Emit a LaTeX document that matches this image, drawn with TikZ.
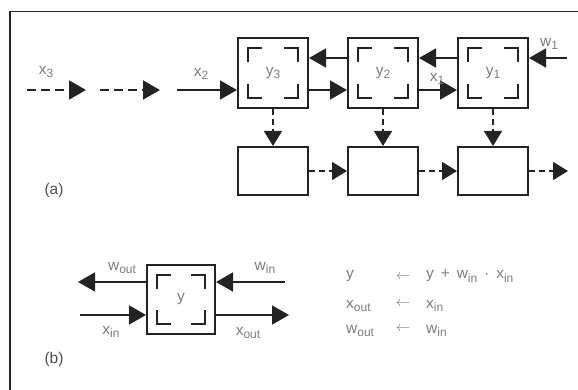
\documentclass[tikz,border=0pt]{standalone}
\usepackage{fontspec}
\setmainfont{Liberation Sans}
\usetikzlibrary{arrows.meta}
\definecolor{txt}{RGB}{125,125,125}
\definecolor{ink}{RGB}{35,35,35}
\newcommand\sbs[1]{\raisebox{-0.45ex}{\fontsize{12}{13}\selectfont #1}}
\tikzset{
  brk/.style={draw=ink, line width=2.3pt},
  brackets/.style={path picture={
    \draw[brk] ([shift={(#1pt,-#1pt-14pt)}]path picture bounding box.north west) -- ++(0pt,14pt) -- ++(14pt,0pt);
    \draw[brk] ([shift={(-#1pt-14pt,-#1pt)}]path picture bounding box.north east) -- ++(14pt,0pt) -- ++(0pt,-14pt);
    \draw[brk] ([shift={(#1pt,#1pt+14pt)}]path picture bounding box.south west) -- ++(0pt,-14pt) -- ++(14pt,0pt);
    \draw[brk] ([shift={(-#1pt-14pt,#1pt)}]path picture bounding box.south east) -- ++(14pt,0pt) -- ++(0pt,14pt);
  }},
  cell/.style={draw=ink, line width=2pt, minimum width=70pt, minimum height=70pt,
    inner sep=0pt, text=txt, font=\fontsize{15.5}{17}\selectfont, brackets=10},
  store/.style={draw=ink, line width=2pt, minimum width=70pt, minimum height=48pt, inner sep=0pt},
  lab/.style={text=txt, font=\fontsize{15.5}{17}\selectfont, inner sep=0pt},
  arr/.style={draw=ink, line width=1.5pt, -{Triangle[length=17pt,width=19pt]}},
  darr/.style={arr, dash pattern=on 9pt off 5pt},
  vdarr/.style={draw=ink, line width=1.5pt, dash pattern=on 6pt off 4pt, -{Triangle[length=15pt,width=18pt]}},
}
\begin{document}
\begin{tikzpicture}[x=1pt,y=-1pt]
\useasboundingbox (0,0) rectangle (578,390);
\fill[white] (0,0) rectangle (578,390);
% frame
\draw[ink, line width=1.5pt] (10,390) -- (10,11.5) -- (578,11.5);

% (a) cells
\node[cell] (c3) at (273,73) {y\sbs{3}};
\node[cell] (c2) at (383,73) {y\sbs{2}};
\node[cell] (c1) at (493,73) {y\sbs{1}};
\node[store] (s3) at (273,171) {};
\node[store] (s2) at (383,171) {};
\node[store] (s1) at (493,171) {};

% w flow (right to left)
\coordinate (win1) at (567,58);
\draw[arr] (win1) -- (c1.east |- win1);
\draw[arr] (c1.west |- win1) -- (c2.east |- win1);
\draw[arr] (c2.west |- win1) -- (c3.east |- win1);
% x flow (left to right)
\coordinate (xa) at (27,90);
\coordinate (xb) at (86,90);
\coordinate (xc) at (100,90);
\coordinate (xd) at (160,90);
\coordinate (xe) at (177,90);
\draw[darr] (xa) -- (xb);
\draw[darr] (xc) -- (xd);
\draw[arr] (xe) -- (c3.west |- xe);
\draw[arr] (c3.east |- xe) -- (c2.west |- xe);
\draw[arr] (c2.east |- xe) -- (c1.west |- xe);
% down to stores
\draw[vdarr] (c3) -- (s3);
\draw[vdarr] (c2) -- (s2);
\draw[vdarr] (c1) -- (s1);
% stores chain
\coordinate (sout) at (568,171);
\draw[vdarr] (s3) -- (s2);
\draw[vdarr] (s2) -- (s1);
\draw[vdarr] (s1) -- (sout);

% labels (a)
\node[lab] (lx3) at (46,72) {x\sbs{3}};
\node[lab] (lx2) at (201,74) {x\sbs{2}};
\node[lab] (lx1) at (437,79) {x\sbs{1}};
\node[lab] (lw1) at (549,44) {w\sbs{1}};
\node[lab, text=ink!80] (la) at (54,190) {(a)};

% (b)
\node[cell, minimum width=68pt, minimum height=69pt] (b) at (181,299.5) {y};
\coordinate (wo) at (78,282);
\coordinate (wi) at (285,282);
\coordinate (xi) at (80,315);
\coordinate (xo) at (289,315);
\draw[arr] (b.west |- wo) -- (wo);
\draw[arr] (wi) -- (b.east |- wi);
\draw[arr] (xi) -- (b.west |- xi);
\draw[arr] (b.east |- xo) -- (xo);
\node[lab] (lwo) at (122,268) {w\sbs{out}};
\node[lab] (lwi) at (265,268) {w\sbs{in}};
\node[lab] (lxi) at (111,332) {x\sbs{in}};
\node[lab] (lxo) at (248,333) {x\sbs{out}};
\node[lab, text=ink!80] (lb) at (54,359) {(b)};

% equations
\node[lab, anchor=west] (e1l) at (346,276) {y};
\node[lab, anchor=west] (e2l) at (346,306) {x\sbs{out}};
\node[lab, anchor=west] (e3l) at (346,331) {w\sbs{out}};
\node[lab] (e1a) at (403,277) {$\leftarrow$};
\node[lab] (e2a) at (403,304) {$\leftarrow$};
\node[lab] (e3a) at (403,329) {$\leftarrow$};
\node[lab, anchor=west] (e1r) at (426,276) {y \,+\, w\sbs{in} \,·\, x\sbs{in}};
\node[lab, anchor=west] (e2r) at (426,306) {x\sbs{in}};
\node[lab, anchor=west] (e3r) at (426,331) {w\sbs{in}};
\end{tikzpicture}
\end{document}
